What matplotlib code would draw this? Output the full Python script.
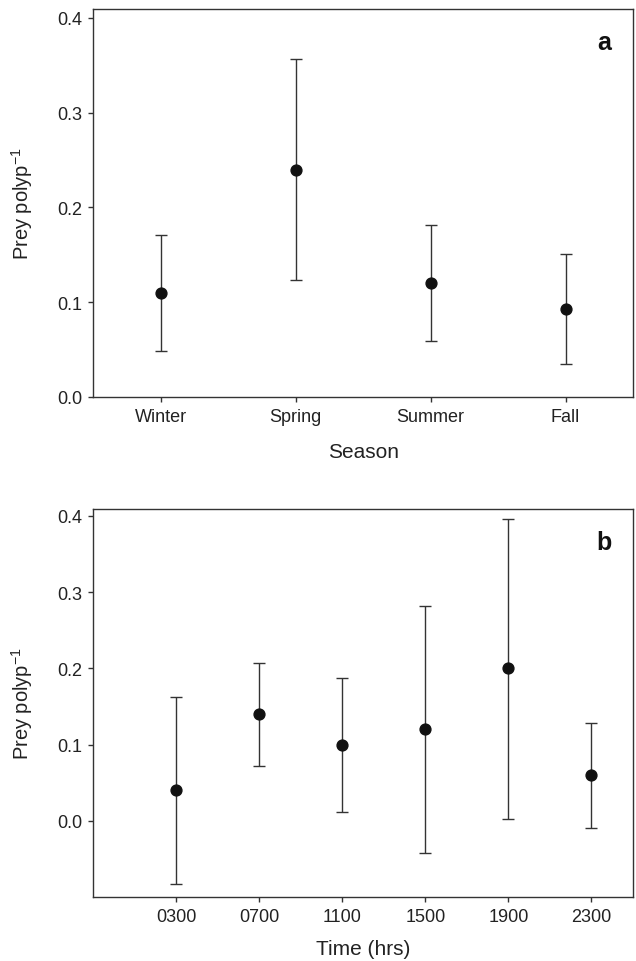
import matplotlib
matplotlib.use("Agg")
import matplotlib.pyplot as plt
import numpy as np

# Panel a: prey per polyp by season
seasons = ["Winter", "Spring", "Summer", "Fall"]
season_mean = [0.110, 0.240, 0.120, 0.093]
season_upper = [0.171, 0.357, 0.181, 0.151]
season_lower = [0.049, 0.123, 0.059, 0.035]

# Panel b: prey per polyp by time of day
times = ["0300", "0700", "1100", "1500", "1900", "2300"]
time_mean = [0.040, 0.140, 0.100, 0.120, 0.200, 0.060]
time_upper = [0.163, 0.207, 0.187, 0.282, 0.396, 0.128]
time_lower = [-0.083, 0.072, 0.012, -0.042, 0.003, -0.009]

plt.rcParams["font.family"] = ["Liberation Sans", "DejaVu Sans"]
plt.rcParams["mathtext.fontset"] = "custom"
plt.rcParams["mathtext.rm"] = "Liberation Sans"

line_col = "#333333"

fig = plt.figure(figsize=(6.36, 9.62), dpi=100)
ax_a = fig.add_axes([0.1467, 0.5863, 0.8486, 0.4038])
ax_b = fig.add_axes([0.1467, 0.0665, 0.8486, 0.4033])


def draw_panel(ax, labels, mean, upper, lower, xlim, ylim, yticks, xlabel, letter):
    x = np.arange(1, len(labels) + 1)
    mean = np.array(mean)
    yerr = [mean - np.array(lower), np.array(upper) - mean]
    ax.errorbar(x, mean, yerr=yerr, fmt="o", color="#111111", ms=7.8,
                ecolor=line_col, elinewidth=1.0, capsize=4, capthick=1.0, zorder=3)
    ax.set_xlim(*xlim)
    ax.set_ylim(*ylim)
    ax.set_xticks(x)
    ax.set_xticklabels(labels)
    ax.set_yticks(yticks)
    ax.set_yticklabels([f"{t:.1f}" for t in yticks])
    ax.tick_params(direction="out", length=3.6, width=1.0, color=line_col,
                   labelsize=13, labelcolor="#222222", pad=4)
    for sp in ax.spines.values():
        sp.set_color(line_col)
        sp.set_linewidth(1.0)
    ax.set_ylabel(r"Prey polyp$^{\mathregular{-1}}$", fontsize=14.5, color="#222222")
    ax.set_xlabel(xlabel, fontsize=15, color="#222222")
    ax.text(0.946, 0.915, letter, transform=ax.transAxes, fontsize=18,
            fontweight="bold", ha="center", va="center", color="#111111")


draw_panel(ax_a, seasons, season_mean, season_upper, season_lower,
           (0.5, 4.5), (0.0, 0.41), [0.0, 0.1, 0.2, 0.3, 0.4], "Season", "a")
ax_a.yaxis.set_label_coords(-0.108, 0.5)
ax_a.xaxis.set_label_coords(0.5, -0.115)

draw_panel(ax_b, times, time_mean, time_upper, time_lower,
           (0.0, 6.5), (-0.1, 0.409), [0.0, 0.1, 0.2, 0.3, 0.4], "Time (hrs)", "b")
ax_b.yaxis.set_label_coords(-0.108, 0.5)
ax_b.xaxis.set_label_coords(0.5, -0.107)

fig.savefig("out.png", dpi=100, facecolor="white")
